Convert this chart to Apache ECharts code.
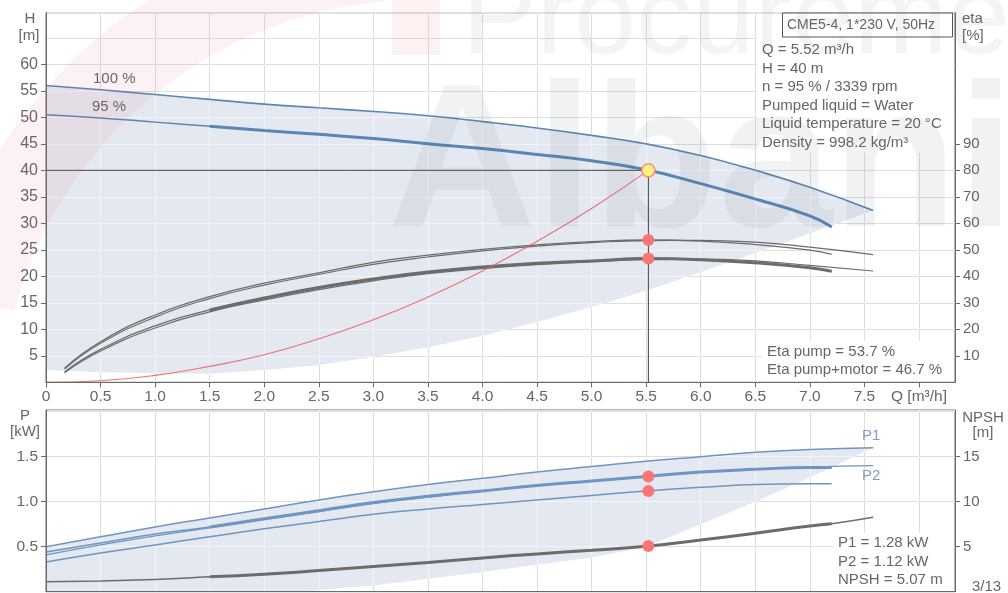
<!DOCTYPE html>
<html>
<head>
<meta charset="utf-8">
<script src="https://cdn.jsdelivr.net/npm/echarts@6.0.0/dist/echarts.min.js"></script>
<style>
html,body{margin:0;padding:0;background:#ffffff;}
#chart{width:1008px;height:593px;}
</style>
</head>
<body>
<div id="chart"></div>
<script>
// ---------------- data ----------------
const xTicks = [0,0.5,1,1.5,2,2.5,3,3.5,4,4.5,5,5.5,6,6.5,7,7.5,8];
const hTicks = [5,10,15,20,25,30,35,40,45,50,55,60];
const etaTicks = [10,20,30,40,50,60,70,80,90];
const pTicks = [0.5,1.0,1.5];
const npshTicks = [5,10,15];

// QH curves
const q100 = [0,0.5,1,1.5,2,2.5,3,3.5,4,4.5,5,5.5,6,6.5,7,7.58];
const h100 = [56.0,55.2,54.3,53.4,52.5,51.8,51.1,50.3,49.2,48.0,46.6,45.0,42.8,40.0,36.8,32.4];
const q95  = [0,0.5,1,1.5,2,2.5,3,3.5,4,4.5,5,5.5,6,6.5,7,7.2];
const h95  = [50.5,49.9,49.1,48.3,47.5,46.8,46.0,45.0,44.1,43.0,41.8,40.1,37.5,34.6,31.4,29.3];

// efficiency curves
const qe100 = [0.17,0.5,1,1.5,2,2.5,3,3.5,4,4.5,5,5.5,6,6.5,7,7.58];
const qe95  = [0.17,0.5,1,1.5,2,2.5,3,3.5,4,4.5,5,5.5,6,6.5,7,7.2];
const etaPump100 = [5.0,14.7,24.6,31.6,36.7,40.7,44.5,47.3,49.6,51.4,52.7,53.5,53.6,52.9,51.0,48.2];
const etaPump95  = [5.3,15.3,25.4,32.3,37.4,41.3,45.3,48.0,50.2,51.9,53.1,53.7,53.3,52.0,49.9,48.3];
const etaTot100  = [3.6,11.8,20.5,26.6,31.1,35.0,38.3,41.0,42.9,44.4,45.5,46.3,46.5,45.8,44.1,42.0];
const etaTot95   = [3.9,12.4,21.3,27.3,31.8,35.8,39.0,41.6,43.5,44.9,45.8,46.7,46.3,45.1,43.2,41.9];

// system curve
const sysQ = [0,0.5,1,1.5,2,2.5,3,3.5,4,4.5,5,5.52];
const sysH = [0,0.3,1.3,3.0,5.2,8.2,11.8,16.1,21.0,26.6,32.8,40];

// lower bound of the shaded operating range (top)
const loTopQ = [0,0.5,1,1.5,2,2.5,3,3.5,4,4.5,5,5.5,6,6.5,7,7.58];
const loTopH = [2.3,1.9,1.7,1.6,2.3,3.2,4.8,6.6,8.8,11.4,14.2,17.3,20.8,24.4,28.1,32.4];

// power curves
const qp100 = [0,0.5,1,1.5,2,2.5,3,3.5,4,4.5,5,5.5,6,6.5,7,7.58];
const qp95  = [0,0.5,1,1.5,2,2.5,3,3.5,4,4.5,5,5.5,6,6.5,7,7.2];
const p1_100 = [0.50,0.61,0.72,0.82,0.92,1.02,1.11,1.19,1.26,1.33,1.39,1.45,1.50,1.55,1.58,1.60];
const p1_95  = [0.44,0.54,0.64,0.72,0.81,0.90,0.99,1.06,1.12,1.18,1.23,1.28,1.33,1.36,1.38,1.38];
const p2_100 = [0.41,0.52,0.62,0.71,0.80,0.89,0.98,1.05,1.12,1.18,1.23,1.28,1.33,1.36,1.385,1.40];
const p2_95  = [0.33,0.43,0.52,0.61,0.70,0.78,0.86,0.92,0.97,1.02,1.07,1.12,1.16,1.19,1.20,1.20];

// NPSH
const qn   = [0,0.5,1,1.5,2,2.5,3,3.5,4,4.5,5,5.5,6,6.5,7,7.2,7.58];
const npsh = [1.1,1.2,1.35,1.65,1.95,2.35,2.8,3.25,3.75,4.2,4.6,5.05,5.75,6.5,7.3,7.55,8.27];

// lower bound of the shaded range (bottom)
const loBotQ = [0,2.3,3,4,5,5.5,6,6.5,7,7.58];
const loBotP = [0,0,0.07,0.22,0.38,0.5,0.75,1.0,1.27,1.6];

// duty point
const dutyQ = 5.52, dutyH = 40, dutyEtaPump = 53.7, dutyEtaTot = 46.7;
const dutyP1 = 1.28, dutyP2 = 1.12, dutyNPSH = 5.07;
const thickFrom = 1.5;

// ---------------- styling ----------------
const FONT = '"Liberation Sans", Arial, sans-serif';
const TXT = '#666666';
const AX = '#6a6a6a';
const BLUE = '#5a86b5';
const PBLUE = '#6f95c2';
const GRAY = '#6c6c6c';
const SHADE = '#e4e9f1';
const XMAX = 8.33;

function pairs(qs, vs){ return qs.map((q,i)=>[q, vs[i]]); }
function thick(qs, vs){ return pairs(qs, vs).filter(p=>p[0] >= thickFrom - 1e-9); }
function inList(list, v){ return list.some(t=>Math.abs(t-v)<1e-6); }

function line(xi, yi, data, color, width, z){
  return {type:'line', xAxisIndex:xi, yAxisIndex:yi, data, smooth:true, symbol:'none',
    lineStyle:{color, width, cap:'butt'}, z: z||3, silent:true, animation:false};
}
function area(xi, yi, upper, lower){
  const pts = upper.concat(lower.slice().reverse());
  return {type:'custom', xAxisIndex:xi, yAxisIndex:yi, z:1, silent:true, animation:false,
    data:[[0,0]],
    renderItem:(params, api)=>({type:'polygon', shape:{points: pts.map(p=>api.coord(p))},
      style:{fill:SHADE}})};
}
function dots(xi, yi, data, color, size, border){
  return {type:'scatter', xAxisIndex:xi, yAxisIndex:yi, data, symbolSize:size, z:6, silent:true,
    animation:false, itemStyle:{color, borderColor:border||color, borderWidth:border?1.5:0, opacity:1}};
}

const labelBase = {color:TXT, fontFamily:FONT};
const hidden = {axisLine:{show:false}, axisTick:{show:false}, axisLabel:{show:false}};

function gridAxisX(gi, color, z){
  return Object.assign({type:'value', gridIndex:gi, min:0, max:XMAX, interval:0.5, z,
    splitLine:{show:true, lineStyle:{color, width:1}}}, hidden);
}
function gridAxisY(gi, max, interval, color, z){
  return Object.assign({type:'value', gridIndex:gi, min:0, max, interval, z, position:'left',
    splitLine:{show:true, lineStyle:{color, width:1}}}, hidden);
}

const GRAYGRID = '#bcbcbc';
const WHITEGRID = 'rgba(255,255,255,0.5)';

const option = {
  animation:false,
  backgroundColor:'#ffffff',
  grid:[
    {left:46, right:53, top:12.7, height:369.6, show:true, borderColor:AX, borderWidth:1, backgroundColor:'transparent', outerBoundsMode:'none'},
    {left:46, right:53, top:410, height:181.7, show:true, borderColor:AX, borderWidth:1, backgroundColor:'transparent', outerBoundsMode:'none'}
  ],
  xAxis:[
    {type:'value', gridIndex:0, min:0, max:XMAX, interval:0.5, z:8,
     axisLine:{show:true, onZero:false, lineStyle:{color:AX, width:1}},
     axisTick:{show:true, length:5, customValues:xTicks, lineStyle:{color:AX}},
     axisLabel:Object.assign({customValues:xTicks, fontSize:15.5, margin:6, hideOverlap:false,
       formatter:v=>{ if(!inList(xTicks,v)) return ''; if(Math.abs(v-8)<1e-6) return 'Q [m³/h]'; if(v===0) return '0'; return v.toFixed(1);} }, labelBase),
     splitLine:{show:false}},
    {type:'value', gridIndex:1, min:0, max:XMAX, interval:0.5, z:8,
     axisLine:{show:true, onZero:false, lineStyle:{color:AX, width:1}},
     axisTick:{show:false}, axisLabel:{show:false}, splitLine:{show:false}},
    gridAxisX(0, GRAYGRID, 0),
    gridAxisX(0, WHITEGRID, 2),
    gridAxisX(1, GRAYGRID, 0),
    gridAxisX(1, WHITEGRID, 2)
  ],
  yAxis:[
    {type:'value', gridIndex:0, position:'left', min:0, max:69.75, interval:5, z:8,
     axisLine:{show:true, onZero:false, lineStyle:{color:AX, width:1}},
     axisTick:{show:true, length:5, customValues:hTicks, lineStyle:{color:AX}},
     axisLabel:Object.assign({customValues:hTicks, fontSize:16, margin:8,
       formatter:v=>inList(hTicks,v)?String(v):''}, labelBase),
     splitLine:{show:false}},
    {type:'value', gridIndex:0, position:'right', min:0, max:139.5, interval:10, z:8,
     axisLine:{show:true, onZero:false, lineStyle:{color:AX, width:1}},
     axisTick:{show:true, length:5, customValues:etaTicks, lineStyle:{color:AX}},
     axisLabel:Object.assign({customValues:etaTicks, fontSize:15, margin:8,
       formatter:v=>inList(etaTicks,v)?String(v):''}, labelBase),
     splitLine:{show:false}},
    {type:'value', gridIndex:1, position:'left', min:0, max:2.019, interval:0.5, z:8,
     axisLine:{show:true, onZero:false, lineStyle:{color:AX, width:1}},
     axisTick:{show:true, length:5, customValues:pTicks, lineStyle:{color:AX}},
     axisLabel:Object.assign({customValues:pTicks, fontSize:15.5, margin:8,
       formatter:v=>inList(pTicks,v)?v.toFixed(1):''}, labelBase),
     splitLine:{show:false}},
    {type:'value', gridIndex:1, position:'right', min:0, max:20.19, interval:5, z:8,
     axisLine:{show:true, onZero:false, lineStyle:{color:AX, width:1}},
     axisTick:{show:true, length:5, customValues:npshTicks, lineStyle:{color:AX}},
     axisLabel:Object.assign({customValues:npshTicks, fontSize:15, margin:8,
       formatter:v=>inList(npshTicks,v)?String(v):''}, labelBase),
     splitLine:{show:false}},
    gridAxisY(0, 69.75, 5, GRAYGRID, 0),
    gridAxisY(0, 69.75, 5, WHITEGRID, 2),
    gridAxisY(1, 2.019, 0.5, GRAYGRID, 0),
    gridAxisY(1, 2.019, 0.5, WHITEGRID, 2)
  ],
  series:[
    // ---- top panel ----
    area(0, 0, pairs(q100, h100), pairs(loTopQ, loTopH)),
    line(0, 0, pairs(q100, h100), BLUE, 1.6),
    line(0, 0, pairs(q95, h95), BLUE, 1.5),
    line(0, 0, thick(q95, h95), BLUE, 3, 4),
    line(0, 1, pairs(qe100, etaPump100), GRAY, 1.2),
    line(0, 1, pairs(qe95, etaPump95), GRAY, 1.3),
    line(0, 1, pairs(qe100, etaTot100), GRAY, 1.2),
    line(0, 1, pairs(qe95, etaTot95), GRAY, 1.3),
    line(0, 1, thick(qe95, etaTot95), GRAY, 3, 4),
    line(0, 0, pairs(sysQ, sysH), 'rgba(240,90,90,0.85)', 1.1, 4),
    {type:'line', xAxisIndex:0, yAxisIndex:0, data:[[0,dutyH],[dutyQ,dutyH],[dutyQ,0]], symbol:'none',
     lineStyle:{color:'#444', width:1}, z:5, silent:true, animation:false},
    dots(0, 0, [[dutyQ, dutyH]], '#fff27a', 13, '#f4917a'),
    dots(0, 1, [[dutyQ, dutyEtaPump],[dutyQ, dutyEtaTot]], '#f87676', 12),
    // ---- bottom panel ----
    area(1, 2, pairs(qp100, p1_100), pairs(loBotQ, loBotP)),
    line(1, 2, pairs(qp100, p1_100), PBLUE, 1.5),
    line(1, 2, pairs(qp100, p2_100), PBLUE, 1.3),
    line(1, 2, pairs(qp95, p1_95), PBLUE, 1.5),
    line(1, 2, thick(qp95, p1_95), PBLUE, 3, 4),
    line(1, 2, pairs(qp95, p2_95), PBLUE, 1.5),
    line(1, 3, pairs(qn, npsh), GRAY, 1.5),
    line(1, 3, thick(qn.slice(0,16), npsh.slice(0,16)), GRAY, 3, 4),
    dots(1, 2, [[dutyQ, dutyP1],[dutyQ, dutyP2]], '#f87676', 12),
    dots(1, 3, [[dutyQ, dutyNPSH]], '#f87676', 12)
  ],
  graphic:{elements:[]}
};

function txt(x, y, s, o){
  o = o || {};
  return {type:'text', x, y, z:o.z||30, silent:true,
    style:{text:s, fill:o.color||TXT, font:(o.size||15)+'px '+FONT,
      textAlign:o.align||'left', align:o.align||'left', textVerticalAlign:'middle', verticalAlign:'middle'}};
}
function rect(x, y, w, h, stroke){
  return {type:'rect', z:25, silent:true, shape:{x, y, width:w, height:h},
    style:{fill:'#ffffff', stroke:stroke||null, lineWidth:stroke?1:0}};
}

const G = option.graphic.elements;
// axis titles
G.push(txt(30, 19, 'H', {align:'center'}));
G.push(txt(29, 36, '[m]', {align:'center'}));
G.push(txt(962, 19, 'eta'));
G.push(txt(962, 36, '[%]'));
G.push(txt(25, 416, 'P', {align:'center'}));
G.push(txt(25, 432, '[kW]', {align:'center'}));
G.push(txt(983, 418, 'NPSH', {align:'center'}));
G.push(txt(983, 433, '[m]', {align:'center'}));
// curve labels
G.push(txt(93, 79, '100 %'));
G.push(txt(92, 107, '95 %'));
G.push(txt(862, 436, 'P1', {color:'#7d9dc6'}));
G.push(txt(862, 476, 'P2', {color:'#7d9dc6'}));
// info boxes
G.push(rect(757, 37, 196, 116));
G.push(rect(782.5, 13, 170, 24, '#555555'));
G.push(txt(787, 25.5, 'CME5-4, 1*230 V, 50Hz', {size:14, z:31}));
const info = ['Q = 5.52 m³/h','H = 40 m','n = 95 % / 3339 rpm','Pumped liquid = Water','Liquid temperature = 20 °C','Density = 998.2 kg/m³'];
info.forEach((s,i)=>G.push(txt(762, 50 + i*18.5, s)));
G.push(rect(762, 341, 191, 40));
G.push(txt(767, 351.5, 'Eta pump = 53.7 %'));
G.push(txt(767, 370, 'Eta pump+motor = 46.7 %'));
G.push(rect(833, 533, 120, 58));
G.push(txt(838, 543, 'P1 = 1.28 kW'));
G.push(txt(838, 561.5, 'P2 = 1.12 kW'));
G.push(txt(838, 580, 'NPSH = 5.07 m'));
G.push(txt(972, 587, '3/13'));
// faint watermark
G.push({type:'sector', z:90, silent:true,
  shape:{cx:420, cy:420, r0:420, r:500, startAngle:195*Math.PI/180, endAngle:265*Math.PI/180},
  style:{fill:'rgba(235,95,105,0.08)'}});
G.push({type:'rect', z:90, silent:true, shape:{x:392, y:0, width:48, height:55}, style:{fill:'rgba(235,95,105,0.09)'}});
G.push({type:'text', x:462, y:78, z:91, silent:true,
  style:{text:'Procurement', fill:'rgba(110,110,110,0.08)', font:'112px '+FONT, textVerticalAlign:'bottom', verticalAlign:'bottom'}});
G.push({type:'text', x:388, y:272, z:91, silent:true,
  style:{text:'Albania', fill:'rgba(80,90,100,0.08)', font:'bold 205px '+FONT, textVerticalAlign:'bottom', verticalAlign:'bottom'}});

const chart = echarts.init(document.getElementById('chart'), null, {renderer:'canvas'});
chart.setOption(option);
</script>
</body>
</html>
